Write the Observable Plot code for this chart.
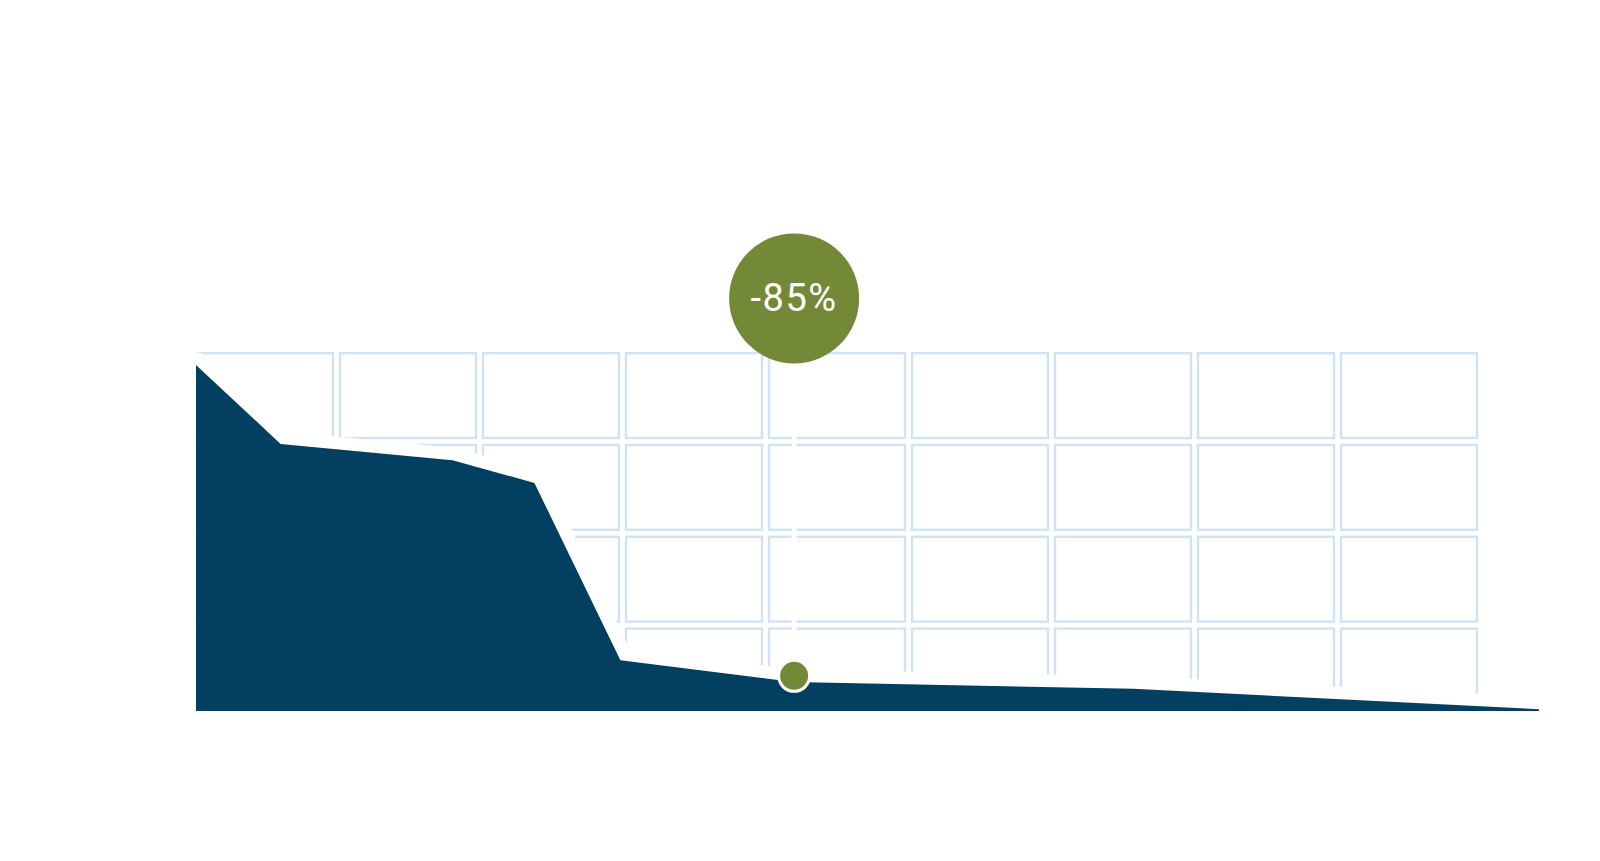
<!DOCTYPE html>
<html>
<head>
<meta charset="utf-8">
<script src="https://cdn.jsdelivr.net/npm/d3@7"></script>
<script src="https://cdn.jsdelivr.net/npm/@observablehq/plot@0.6"></script>
<style>
  html, body { margin: 0; padding: 0; background: #ffffff; }
  #wrap { position: relative; width: 1600px; height: 861px; overflow: hidden; }
  #wrap svg { position: absolute; left: 0; top: 0; }
</style>
</head>
<body>
<div id="wrap"></div>
<script>
// ---- data ----
const positions = [0, 6.3, 19.1, 25.2, 31.6, 44.5, 69.8, 100];
const values    = [100, 77.2, 72.5, 65.9, 14.7, 8.4, 6.4, 0.5];

// highlighted point and its label bubble
const highlightPosition = [44.5];
const highlightValue    = [10.3];
const bubbleValue       = [119.4];
const bubbleLabel       = ["-85%"];

// decorative background grid (columns × rows)
const gridColumns = ["1", "2", "3", "4", "5", "6", "7", "8", "9"];
const gridRows    = ["1", "2", "3", "4"];

// ---- derived tables ----
const series = positions.map((p, i) => ({x: p, y: values[i]}));
const cells = gridRows.flatMap(r => gridColumns.map(c => ({col: c, row: r})));
const highlight = highlightPosition.map((p, i) => ({
  x: p, y: highlightValue[i], by: bubbleValue[i], label: bubbleLabel[i]
}));

const NAVY = "#023f60";
const GREEN = "#748938";
const GRID = "#cfe3f5";

// ---- background grid plot ----
const gridPlot = Plot.plot({
  width: 1600,
  height: 711,
  style: {background: "transparent", overflow: "hidden"},
  x: {type: "band", domain: gridColumns, range: [197, 1477], paddingInner: 0.049, paddingOuter: 0, round: false, axis: null},
  y: {type: "band", domain: gridRows, range: [353.2, 713.4], paddingInner: 0.076, paddingOuter: 0, round: false, axis: null},
  marks: [
    Plot.cell(cells, {x: "col", y: "row", fill: "none", stroke: GRID, strokeWidth: 2.4, inset: 0})
  ]
});

// ---- main chart plot ----
const mainPlot = Plot.plot({
  width: 1600,
  height: 861,
  marginLeft: 196,
  marginRight: 61,
  marginTop: 365,
  marginBottom: 150,
  style: {background: "transparent", overflow: "visible"},
  x: {domain: [0, 100], axis: null},
  y: {domain: [0, 100], axis: null},
  marks: [
    // white halo separating the area from the grid
    Plot.line(series, {x: "x", y: "y", stroke: "white", strokeWidth: 26,
      strokeLinecap: "round", strokeLinejoin: "round"}),
    Plot.areaY(series, {x: "x", y: "y", fill: NAVY}),
    // connector from point to bubble
    Plot.ruleX(highlight, {x: "x", y1: "y", y2: "by", stroke: "white", strokeWidth: 5}),
    Plot.dot(highlight, {x: "x", y: "y", r: 15.5, fill: GREEN, stroke: "white", strokeWidth: 3}),
    Plot.dot(highlight, {x: "x", y: "by", r: 65, fill: GREEN, stroke: "none"}),
    Plot.text(highlight, {x: "x", y: "by", text: "label", fill: "white",
      fontSize: 38, fontWeight: 400, fontFamily: "Roboto, 'DejaVu Sans', sans-serif", textAnchor: "middle",
      lineAnchor: "middle"})
  ]
});

// widen the bubble label's letter spacing slightly
d3.select(mainPlot).selectAll("text").attr("letter-spacing", "1.5px");

const wrap = document.getElementById("wrap");
wrap.appendChild(gridPlot);
wrap.appendChild(mainPlot);
</script>
</body>
</html>
